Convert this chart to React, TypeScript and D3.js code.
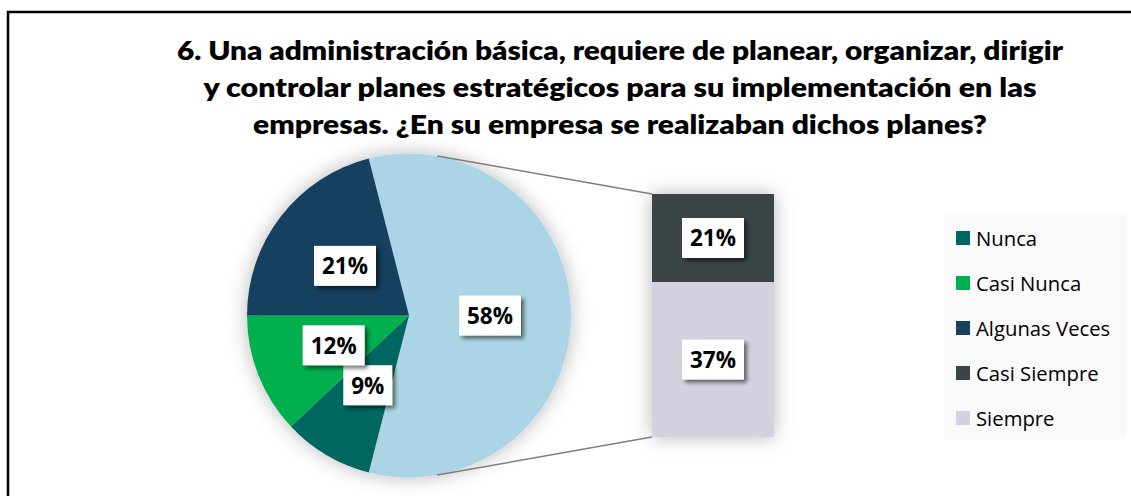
import React from 'react';
import * as d3 from 'd3';

const categories = ['Nunca', 'Casi Nunca', 'Algunas Veces', 'Casi Siempre', 'Siempre'];
const values = [9, 12, 21, 21, 37];
const colors = ['#006660', '#00B050', '#17405F', '#3B4446', '#D3D2DE'];
const otherColor = '#ABD5E6';
const pieCount = 3; // first three go in the pie, the rest into the bar
const titleLines = [
  '6. Una administración básica, requiere de planear, organizar, dirigir',
  'y controlar planes estratégicos para su implementación en las',
  'empresas. ¿En su empresa se realizaban dichos planes?',
];
const titleWidths = [886, 833, 734];

const W = 1131;
const H = 496;

export default function App() {
  const cx = 409, cy = 315.5, r = 162;
  const barX = 652, barW = 122, barTop = 194, barBottom = 437;

  const otherValue = d3.sum(values.slice(pieCount));
  const total = d3.sum(values);
  const pieData = [
    { name: 'Otro', value: otherValue, color: otherColor },
    ...categories.slice(0, pieCount).map((c, i) => ({ name: c, value: values[i], color: colors[i] })),
  ];
  const otherAngle = (otherValue / total) * 2 * Math.PI;
  const start = Math.PI / 2 - otherAngle / 2;
  const pie = d3.pie<any>().sort(null).value((d: any) => d.value).startAngle(start).endAngle(start + 2 * Math.PI);
  const arcs = pie(pieData);
  const arc = d3.arc<any>().innerRadius(0).outerRadius(r);

  const barData = categories.slice(pieCount).map((c, i) => ({ name: c, value: values[pieCount + i], color: colors[pieCount + i] }));
  const y = d3.scaleLinear().domain([0, otherValue]).range([barBottom, barTop]);
  let acc = 0;
  const barSegs = [...barData].reverse().map((d) => {
    const s = { ...d, y0: acc, y1: acc + d.value };
    acc += d.value;
    return s;
  });

  const tangent = (px: number, py: number, up: boolean) => {
    const dx = px - cx, dy = py - cy;
    const d = Math.sqrt(dx * dx + dy * dy);
    const th = Math.atan2(dy, dx);
    const a = Math.acos(r / d);
    const ang = up ? th - a : th + a;
    return [cx + r * Math.cos(ang), cy + r * Math.sin(ang)];
  };
  const t1 = tangent(barX, barTop, true);
  const t2 = tangent(barX, barBottom, false);

  const pct = (v: number) => `${Math.round((v / total) * 100)}%`;

  const Label = ({ x, yy, text }: { x: number; yy: number; text: string }) => {
    const w = 23 + text.length * 13;
    const h = 40;
    return (
      <g>
        <rect x={x - w / 2} y={yy - h / 2} width={w} height={h} fill="#fff" filter="url(#lblShadow)" />
        <text x={x} y={yy} textAnchor="middle" dominantBaseline="central" fontFamily="'Open Sans', sans-serif" fontWeight={700} fontSize={22.5} fill="#000">
          {text}
        </text>
      </g>
    );
  };

  const legendY = d3.scalePoint().domain(categories).range([238, 418]);

  return (
    <svg width={W} height={H} style={{ position: 'absolute', left: 0, top: 0, background: '#fff' }}>
      <defs>
        <filter id="soft" x="-30%" y="-30%" width="160%" height="160%">
          <feDropShadow dx={0} dy={0} stdDeviation={10} floodColor="#000" floodOpacity={0.28} />
        </filter>
        <filter id="lblShadow" x="-30%" y="-30%" width="160%" height="170%">
          <feDropShadow dx={3} dy={3} stdDeviation={2} floodColor="#000" floodOpacity={0.55} />
        </filter>
      </defs>
      <rect x={0} y={0} width={W} height={H} fill="#fff" />
      <rect x={8} y={12} width={1300} height={700} fill="none" stroke="#000" strokeWidth={2.5} />

      {titleLines.map((t, i) => (
        <text key={i} x={620} y={60 + i * 37} textAnchor="middle" fontFamily="Lato, sans-serif" fontWeight={800} fontSize={26} fill="#000"
          textLength={titleWidths[i]} lengthAdjust="spacingAndGlyphs">
          {t}
        </text>
      ))}

      <g filter="url(#soft)">
        <g transform={`translate(${cx},${cy})`}>
          {arcs.map((a, i) => (
            <path key={i} d={arc(a) as string} fill={a.data.color} />
          ))}
        </g>
      </g>
      <g filter="url(#soft)">
        {barSegs.map((s, i) => (
          <rect key={i} x={barX} y={y(s.y1)} width={barW} height={y(s.y0) - y(s.y1)} fill={s.color} />
        ))}
      </g>

      <line x1={t1[0]} y1={t1[1]} x2={barX} y2={barTop} stroke="#7F7F7F" strokeWidth={1.5} />
      <line x1={t2[0]} y1={t2[1]} x2={barX} y2={barBottom} stroke="#7F7F7F" strokeWidth={1.5} />

      {arcs.map((a, i) => {
        const [lx, ly] = arc.centroid(a);
        return <Label key={i} x={cx + lx} yy={cy + ly} text={pct(a.data.value)} />;
      })}
      {barSegs.map((s, i) => (
        <Label key={i} x={barX + barW / 2} yy={(y(s.y0) + y(s.y1)) / 2} text={pct(s.value)} />
      ))}

      <rect x={944} y={215} width={182} height={224} fill="#F9F9F9" />
      {categories.map((c, i) => (
        <g key={c}>
          <rect x={956} y={(legendY(c) as number) - 7} width={14} height={14} fill={colors[i]} />
          <text x={976} y={legendY(c) as number} dominantBaseline="central" fontFamily="'Open Sans', sans-serif" fontSize={20.3} fill="#000">
            {c}
          </text>
        </g>
      ))}
    </svg>
  );
}
